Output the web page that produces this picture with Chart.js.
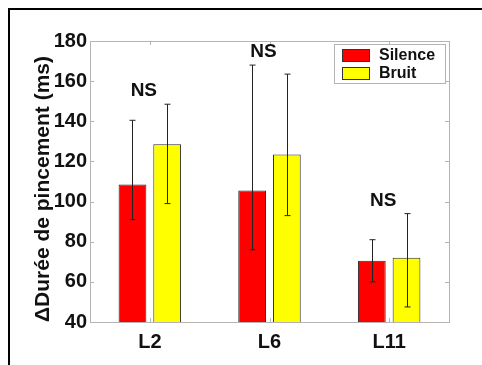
<!DOCTYPE html>
<html>
<head>
<meta charset="utf-8">
<script src="https://cdn.jsdelivr.net/npm/chart.js@4/dist/chart.umd.min.js"></script>
<style>
  html, body { margin: 0; padding: 0; background: #fff; }
  #chart { display: block; }
</style>
</head>
<body>
<canvas id="chart" width="482" height="365"></canvas>
<script>
const categories = ['L2', 'L6', 'L11'];
const seriesNames = ['Silence', 'Bruit'];
const silenceMeans = [108.5, 105.5, 70.5];
const silenceLower = [91, 76, 60];
const silenceUpper = [140.5, 168, 81];
const bruitMeans = [128.5, 123.5, 72];
const bruitLower = [99, 93, 47.5];
const bruitUpper = [148.5, 163.5, 94];
const significance = ['NS', 'NS', 'NS'];
const yTicks = [40, 60, 80, 100, 120, 140, 160, 180];

const FONT = '"Liberation Sans", Arial, sans-serif';
const lows = [silenceLower, bruitLower];
const highs = [silenceUpper, bruitUpper];

const figurePlugin = {
  id: 'figure',
  beforeDraw(chart) {
    const c = chart.ctx;
    c.save();
    c.fillStyle = '#fff';
    c.fillRect(0, 0, chart.width, chart.height);
    // outer frame (only top and left visible in the crop)
    c.strokeStyle = '#000';
    c.lineWidth = 2;
    c.beginPath();
    c.moveTo(9, chart.height);
    c.lineTo(9, 9);
    c.lineTo(chart.width, 9);
    c.stroke();
    c.restore();
  },
  afterDatasetsDraw(chart) {
    const c = chart.ctx;
    const a = chart.chartArea;
    const x = chart.scales.x, y = chart.scales.y;
    c.save();

    // error bars
    c.strokeStyle = '#222';
    c.lineWidth = 1;
    chart.data.datasets.forEach((ds, di) => {
      const meta = chart.getDatasetMeta(di);
      meta.data.forEach((bar, i) => {
        const bx = Math.round(bar.x) + 0.5;
        const top = y.getPixelForValue(highs[di][i]);
        const bot = y.getPixelForValue(lows[di][i]);
        c.beginPath();
        c.moveTo(bx, top); c.lineTo(bx, bot);
        c.moveTo(bx - 3, top); c.lineTo(bx + 3, top);
        c.moveTo(bx - 3, bot); c.lineTo(bx + 3, bot);
        c.stroke();
      });
    });

    // axis box with inner ticks
    c.strokeStyle = '#b4b4b4';
    c.strokeRect(a.left + 0.5, a.top + 0.5, a.right - a.left, a.bottom - a.top);
    c.beginPath();
    yTicks.forEach(v => {
      const py = Math.round(y.getPixelForValue(v)) + 0.5;
      c.moveTo(a.left, py); c.lineTo(a.left + 4, py);
      c.moveTo(a.right, py); c.lineTo(a.right - 4, py);
    });
    categories.forEach((_, i) => {
      const px = Math.round(x.getPixelForValue(i)) + 0.5;
      c.moveTo(px, a.bottom); c.lineTo(px, a.bottom - 4);
      c.moveTo(px, a.top); c.lineTo(px, a.top + 4);
    });
    c.stroke();

    // significance labels above each group
    c.fillStyle = '#111';
    c.font = 'bold 19px ' + FONT;
    c.textAlign = 'center';
    c.textBaseline = 'middle';
    significance.forEach((s, i) => {
      const top = Math.max(silenceUpper[i], bruitUpper[i]);
      c.fillText(s, x.getPixelForValue(i) - 6, y.getPixelForValue(top) - 13);
    });

    // legend
    const lx = a.right - 115, ly = a.top + 3, lw = 111, lh = 39;
    c.fillStyle = '#fff';
    c.fillRect(lx, ly, lw, lh);
    c.strokeStyle = '#b4b4b4';
    c.strokeRect(lx + 0.5, ly + 0.5, lw, lh);
    c.font = 'bold 16px ' + FONT;
    c.textAlign = 'left';
    chart.data.datasets.forEach((ds, di) => {
      const ry = ly + 5 + di * 18;
      c.fillStyle = ds.backgroundColor;
      c.fillRect(lx + 8, ry, 28, 13);
      c.strokeStyle = '#333';
      c.strokeRect(lx + 8.5, ry + 0.5, 27, 12);
      c.fillStyle = '#111';
      c.fillText(ds.label, lx + 45, ry + 7);
    });
    c.restore();
  }
};

new Chart(document.getElementById('chart'), {
  type: 'bar',
  data: {
    labels: categories,
    datasets: [
      { label: seriesNames[0], data: silenceMeans, backgroundColor: '#ff0000', borderColor: '#2a2a2a', borderWidth: 1 },
      { label: seriesNames[1], data: bruitMeans, backgroundColor: '#ffff00', borderColor: '#2a2a2a', borderWidth: 1 }
    ]
  },
  options: {
    responsive: false,
    animation: false,
    devicePixelRatio: 1,
    barPercentage: 0.8,
    categoryPercentage: 0.58,
    layout: { padding: { left: 0, top: 41, right: 33, bottom: 0 } },
    plugins: {
      legend: { display: false },
      tooltip: { enabled: false }
    },
    scales: {
      x: {
        grid: { display: false, drawTicks: false },
        border: { display: false },
        ticks: { color: '#111', font: { family: FONT, size: 20, weight: 'bold' }, padding: 8 },
        afterFit: s => { s.height = 43; }
      },
      y: {
        min: 40,
        max: 180,
        afterBuildTicks: s => { s.ticks = yTicks.map(v => ({ value: v })); },
        grid: { display: false, drawTicks: false },
        border: { display: false },
        ticks: { color: '#111', font: { family: FONT, size: 20, weight: 'bold' }, padding: 3 },
        title: {
          display: true,
          text: 'ΔDurée de pincement (ms)',
          align: 'start',
          color: '#111',
          font: { family: FONT, size: 21, weight: 'bold' },
          padding: { top: 31, bottom: 0 }
        },
        afterFit: s => { s.width = 90; }
      }
    }
  },
  plugins: [figurePlugin]
});
</script>
</body>
</html>
